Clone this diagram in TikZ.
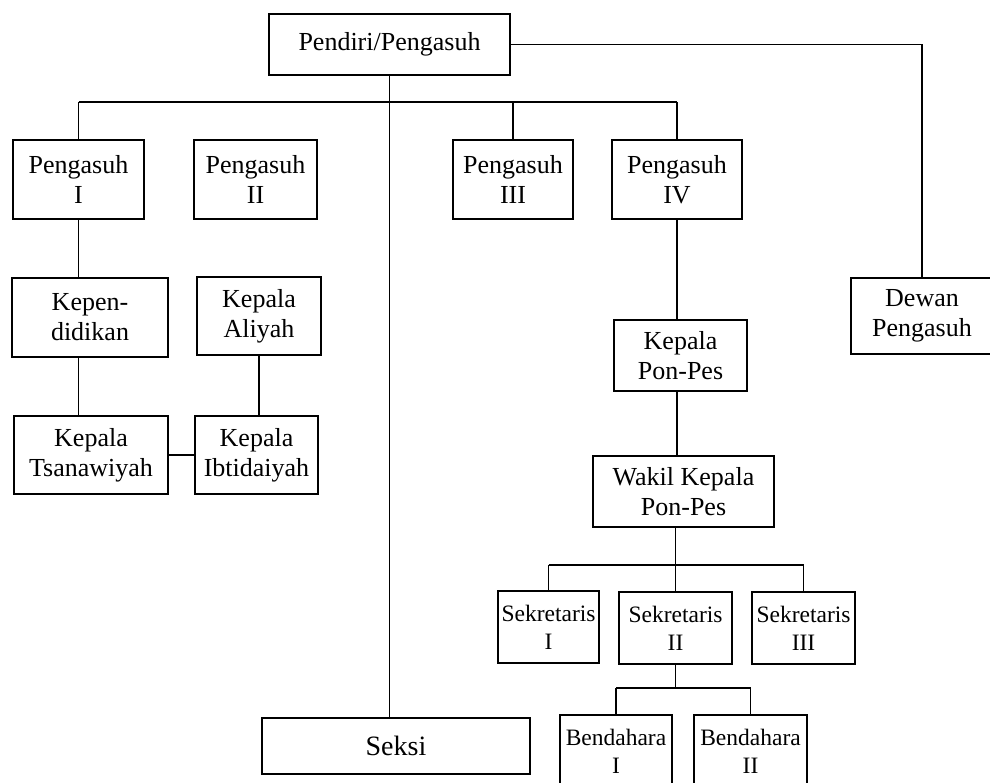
\documentclass[tikz,border=0pt]{standalone}
\usepackage{fontspec}
\setmainfont{Liberation Serif}

\begin{document}
\begin{tikzpicture}[
  x=1pt, y=-1pt,
  box/.style={draw, line width=1.6pt, align=center, inner sep=0pt, font=\fontsize{26}{30}\selectfont},
  smallbox/.style={box, font=\fontsize{23.5}{28}\selectfont},
  link/.style={line width=1.6pt}
]
\clip (0,0) rectangle (990,782);

\node[box, minimum width=241, minimum height=61] (pendiri) at (389.5,44.5) {Pendiri/Pengasuh};
\node[box, minimum width=131, minimum height=79] (peng1) at (78.5,179.5) {Pengasuh\\I};
\node[box, minimum width=123, minimum height=79] (peng2) at (255.5,179.5) {Pengasuh\\II};
\node[box, minimum width=120, minimum height=79] (peng3) at (513,179.5) {Pengasuh\\III};
\node[box, minimum width=130, minimum height=79] (peng4) at (677,179.5) {Pengasuh\\IV};
\node[box, minimum width=142, minimum height=76] (dewan) at (922,316) {Dewan\\Pengasuh};
\node[box, minimum width=156, minimum height=79] (kepen) at (90,317.5) {Kepen-\\didikan};
\node[box, minimum width=124, minimum height=78] (aliyah) at (259,316) {Kepala\\Aliyah};
\node[box, minimum width=154, minimum height=78] (tsan) at (91,455) {Kepala\\Tsanawiyah};
\node[box, minimum width=123, minimum height=78] (ibtid) at (256.5,455) {Kepala\\Ibtidaiyah};
\node[box, minimum width=133, minimum height=71] (ponpes) at (680.5,355.5) {Kepala\\Pon-Pes};
\node[box, minimum width=181, minimum height=71] (wakil) at (683.5,491.5) {Wakil Kepala\\Pon-Pes};
\node[smallbox, minimum width=101, minimum height=72] (sek1) at (548.5,627) {Sekretaris\\I};
\node[smallbox, minimum width=113, minimum height=72] (sek2) at (675.5,628) {Sekretaris\\II};
\node[smallbox, minimum width=103, minimum height=72] (sek3) at (803.5,628) {Sekretaris\\III};
\node[smallbox, minimum width=112, minimum height=72] (bend1) at (616,751) {Bendahara\\I};
\node[smallbox, minimum width=113, minimum height=72] (bend2) at (750.5,751) {Bendahara\\II};
\node[box, minimum width=268, minimum height=56, font=\fontsize{28}{32}\selectfont] (seksi) at (396,746) {Seksi};

% levels of the horizontal bars
\coordinate (topbus) at (0,102);
\coordinate (midbus) at (0,565);
\coordinate (lowbus) at (0,688);

\draw[link] (pendiri.south) -- (pendiri.south |- seksi.north);
\draw[link] (pendiri.east) -| (dewan.north);
\draw[link] (peng1.north |- topbus) -- (peng4.north |- topbus);
\foreach \n in {peng1,peng3,peng4}
  \draw[link] (\n.north) -- (\n.north |- topbus);

\draw[link] (peng1.south) -- (peng1.south |- kepen.north);
\draw[link] (kepen.south -| peng1.south) -- (peng1.south |- tsan.north);
\draw[link] (aliyah.south) -- (aliyah.south |- ibtid.north);
\draw[link] (tsan.east) -- (ibtid.west);

\draw[link] (peng4.south) -- (peng4.south |- ponpes.north);
\draw[link] (ponpes.south -| peng4.south) -- (peng4.south |- wakil.north);
\draw[link] (wakil.south -| sek2.north) -- (sek2.north);
\draw[link] (sek1.north |- midbus) -- (sek3.north |- midbus);
\foreach \n in {sek1,sek3}
  \draw[link] (\n.north) -- (\n.north |- midbus);

\draw[link] (sek2.south) -- (sek2.south |- lowbus);
\draw[link] (bend1.north |- lowbus) -- (bend2.north |- lowbus);
\foreach \n in {bend1,bend2}
  \draw[link] (\n.north) -- (\n.north |- lowbus);
\end{tikzpicture}
\end{document}
